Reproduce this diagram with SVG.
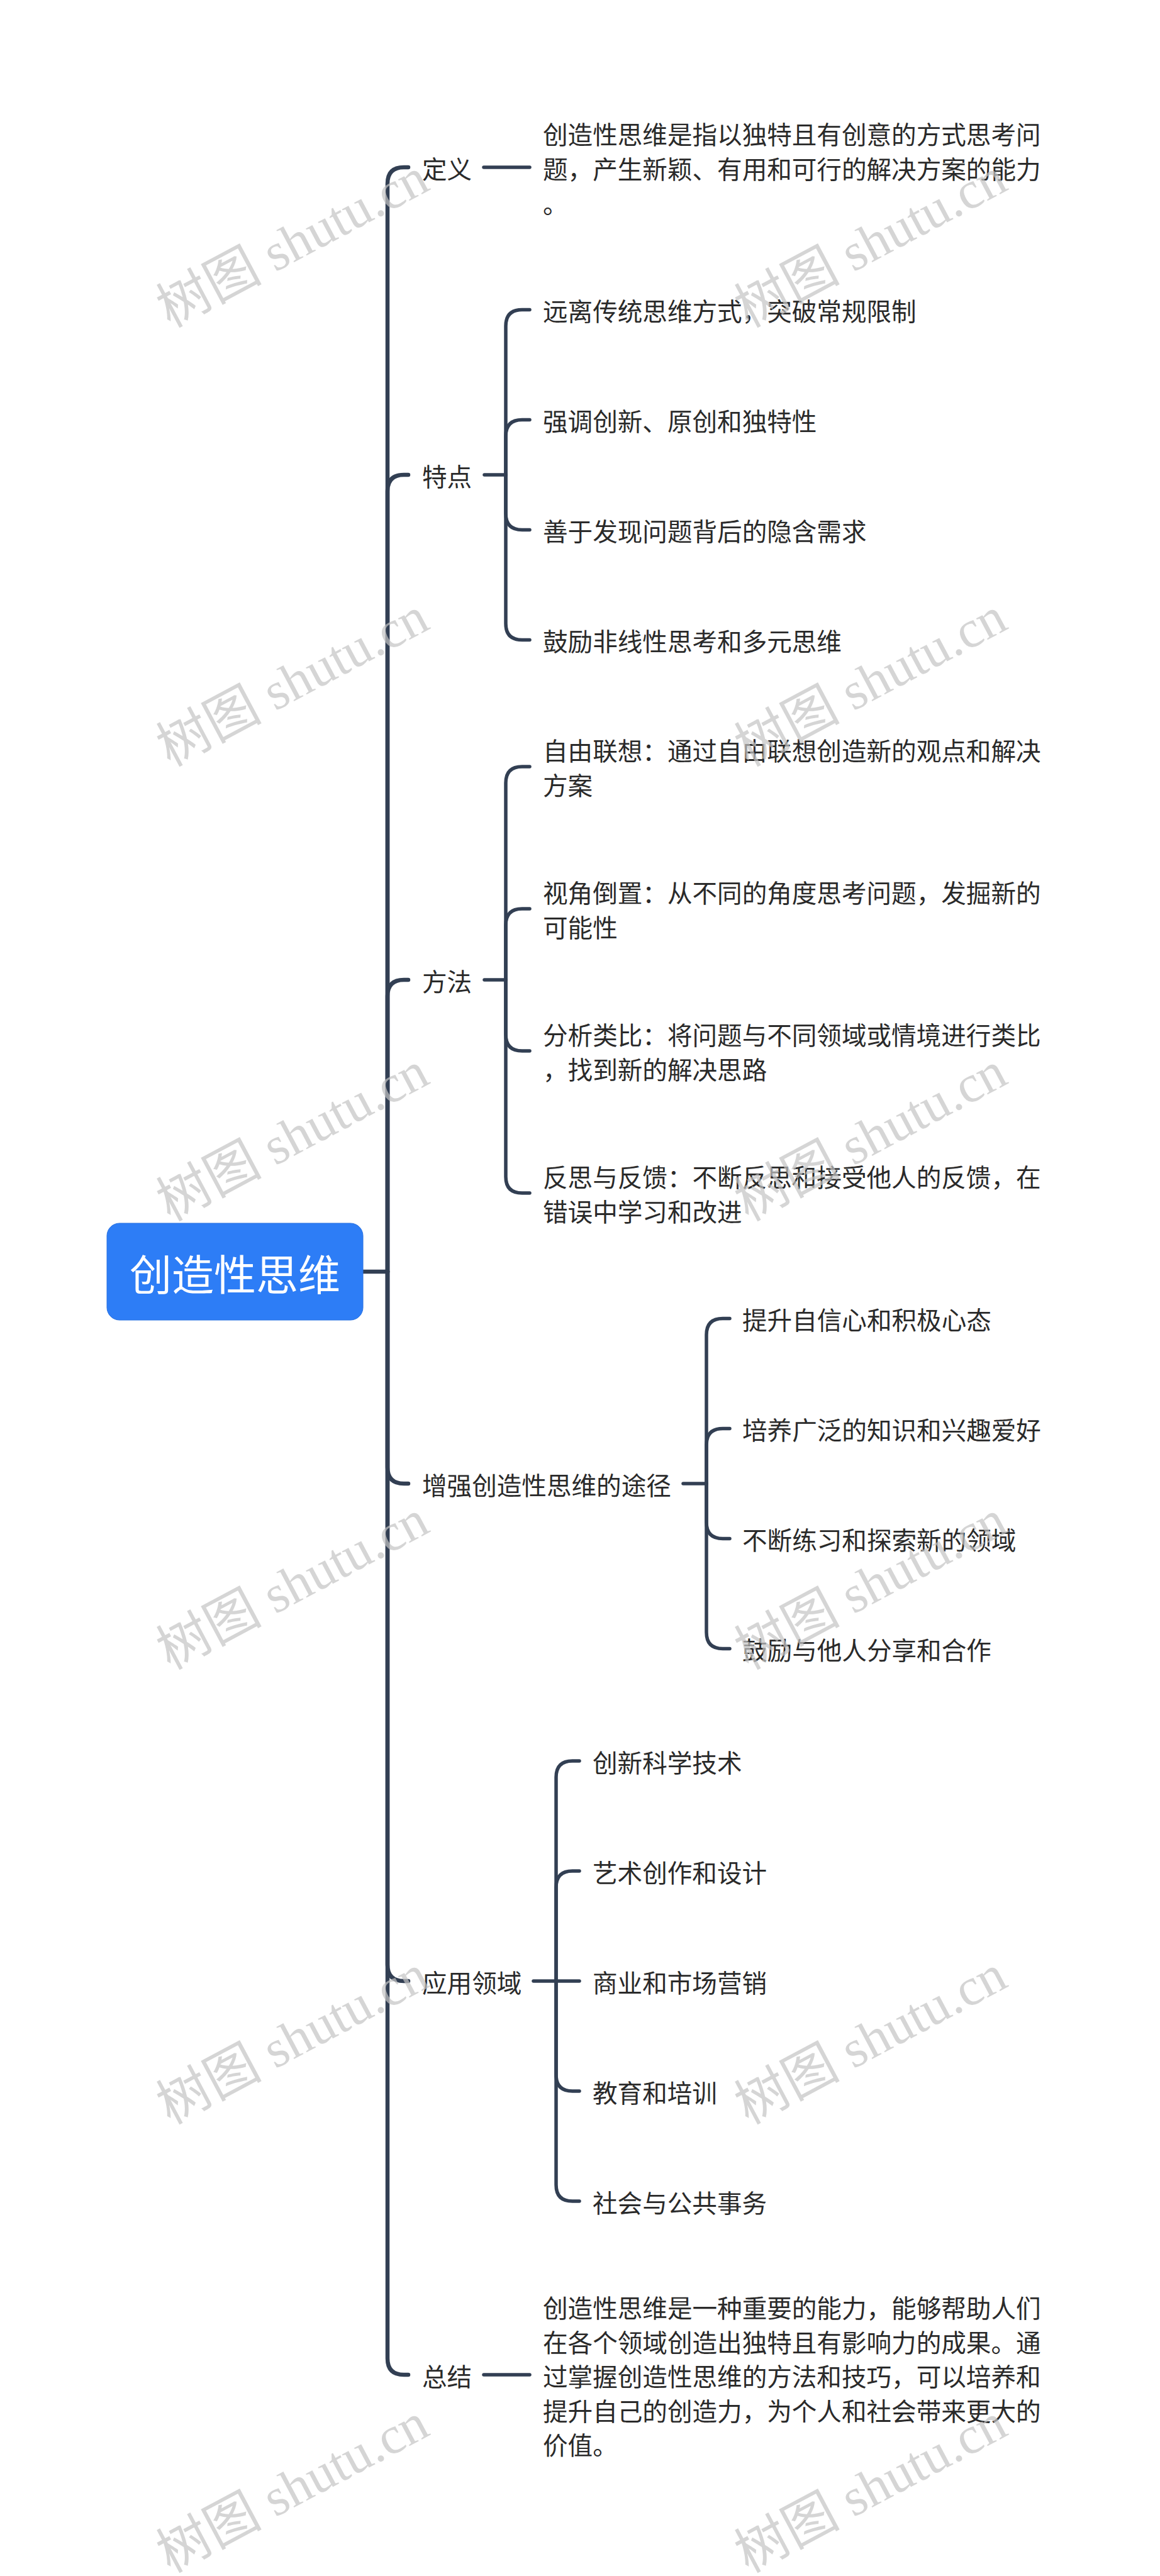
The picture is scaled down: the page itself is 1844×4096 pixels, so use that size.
<svg xmlns="http://www.w3.org/2000/svg" width="1844" height="4096" viewBox="0 0 1844 4096">
<style>
.t{font-family:"Noto Sans CJK SC","Microsoft YaHei","Noto Sans",sans-serif;font-size:39.6px;fill:#2a2a2a;dominant-baseline:central}
.root{font-family:"Noto Sans CJK SC","Microsoft YaHei","Noto Sans",sans-serif;font-size:67px;fill:#ffffff;dominant-baseline:central;text-anchor:middle}
.main{fill:none;stroke:#323f53;stroke-width:6.5;stroke-linecap:round;stroke-linejoin:round}
.sub{fill:none;stroke:#323f53;stroke-width:5.5;stroke-linecap:round;stroke-linejoin:round}
.wm{font-family:"Liberation Serif","Noto Sans CJK SC",serif;font-size:84px;fill:#c4c4c4;opacity:0.7;text-anchor:middle;dominant-baseline:central}
</style>
<rect width="1844" height="4096" fill="#ffffff"/>
<g id="connectors">
<path class="main" d="M577,2022 H616"/>
<path class="main" d="M616,2022 V292 Q616,266 642,266 H649"/>
<path class="main" d="M616,2022 V781 Q616,755 642,755 H649"/>
<path class="main" d="M616,2022 V1584 Q616,1558 642,1558 H649"/>
<path class="main" d="M616,2022 V2333 Q616,2359 642,2359 H649"/>
<path class="main" d="M616,2022 V3124 Q616,3150 642,3150 H649"/>
<path class="main" d="M616,2022 V3750 Q616,3776 642,3776 H649"/>
<path class="sub" d="M769,266 H842"/>
<path class="sub" d="M770,755 H804"/>
<path class="sub" d="M804,755 V518.5 Q804,492.5 830,492.5 H842"/>
<path class="sub" d="M804,755 V693.5 Q804,667.5 830,667.5 H842"/>
<path class="sub" d="M804,755 V816.5 Q804,842.5 830,842.5 H842"/>
<path class="sub" d="M804,755 V991.5 Q804,1017.5 830,1017.5 H842"/>
<path class="sub" d="M770,1558 H804"/>
<path class="sub" d="M804,1558 V1245 Q804,1219 830,1219 H842"/>
<path class="sub" d="M804,1558 V1471 Q804,1445 830,1445 H842"/>
<path class="sub" d="M804,1558 V1645 Q804,1671 830,1671 H842"/>
<path class="sub" d="M804,1558 V1871 Q804,1897 830,1897 H842"/>
<path class="sub" d="M1086,2359 H1123"/>
<path class="sub" d="M1123,2359 V2122.5 Q1123,2096.5 1149,2096.5 H1160"/>
<path class="sub" d="M1123,2359 V2297.5 Q1123,2271.5 1149,2271.5 H1160"/>
<path class="sub" d="M1123,2359 V2420.5 Q1123,2446.5 1149,2446.5 H1160"/>
<path class="sub" d="M1123,2359 V2595.5 Q1123,2621.5 1149,2621.5 H1160"/>
<path class="sub" d="M848,3150 H921"/>
<path class="sub" d="M884,3150 V2826 Q884,2800 910,2800 H921"/>
<path class="sub" d="M884,3150 V3001 Q884,2975 910,2975 H921"/>
<path class="sub" d="M884,3150 V3299 Q884,3325 910,3325 H921"/>
<path class="sub" d="M884,3150 V3474 Q884,3500 910,3500 H921"/>
<path class="sub" d="M769,3776 H842"/>
</g>
<g id="root">
<rect x="170" y="1945" width="407" height="154" rx="20" fill="#2d7df6" stroke="#2a72e0" stroke-width="1"/>
<text class="root" x="373.5" y="2022">创造性思维</text>
</g>
<g id="n-dingyi"><text class="t" x="671" y="266">定义</text></g>
<g id="n-dingyi-1"><text class="t" x="863" y="211.5">创造性思维是指以独特且有创意的方式思考问<tspan x="863" y="266">题，产生新颖、有用和可行的解决方案的能力</tspan><tspan x="863" y="320.5">。</tspan></text></g>
<g id="n-tedian"><text class="t" x="671" y="755">特点</text></g>
<g id="n-tedian-1"><text class="t" x="863" y="492.5">远离传统思维方式，突破常规限制</text></g>
<g id="n-tedian-2"><text class="t" x="863" y="667.5">强调创新、原创和独特性</text></g>
<g id="n-tedian-3"><text class="t" x="863" y="842.5">善于发现问题背后的隐含需求</text></g>
<g id="n-tedian-4"><text class="t" x="863" y="1017.5">鼓励非线性思考和多元思维</text></g>
<g id="n-fangfa"><text class="t" x="671" y="1558">方法</text></g>
<g id="n-fangfa-1"><text class="t" x="863" y="1191.75">自由联想：通过自由联想创造新的观点和解决<tspan x="863" y="1246.25">方案</tspan></text></g>
<g id="n-fangfa-2"><text class="t" x="863" y="1417.75">视角倒置：从不同的角度思考问题，发掘新的<tspan x="863" y="1472.25">可能性</tspan></text></g>
<g id="n-fangfa-3"><text class="t" x="863" y="1643.75">分析类比：将问题与不同领域或情境进行类比<tspan x="863" y="1698.25">，找到新的解决思路</tspan></text></g>
<g id="n-fangfa-4"><text class="t" x="863" y="1869.75">反思与反馈：不断反思和接受他人的反馈，在<tspan x="863" y="1924.25">错误中学习和改进</tspan></text></g>
<g id="n-zengqiang"><text class="t" x="671" y="2359">增强创造性思维的途径</text></g>
<g id="n-zengqiang-1"><text class="t" x="1180" y="2096.5">提升自信心和积极心态</text></g>
<g id="n-zengqiang-2"><text class="t" x="1180" y="2271.5">培养广泛的知识和兴趣爱好</text></g>
<g id="n-zengqiang-3"><text class="t" x="1180" y="2446.5">不断练习和探索新的领域</text></g>
<g id="n-zengqiang-4"><text class="t" x="1180" y="2621.5">鼓励与他人分享和合作</text></g>
<g id="n-yingyong"><text class="t" x="671" y="3150">应用领域</text></g>
<g id="n-yingyong-1"><text class="t" x="942" y="2800">创新科学技术</text></g>
<g id="n-yingyong-2"><text class="t" x="942" y="2975">艺术创作和设计</text></g>
<g id="n-yingyong-3"><text class="t" x="942" y="3150">商业和市场营销</text></g>
<g id="n-yingyong-4"><text class="t" x="942" y="3325">教育和培训</text></g>
<g id="n-yingyong-5"><text class="t" x="942" y="3500">社会与公共事务</text></g>
<g id="n-zongjie"><text class="t" x="671" y="3776">总结</text></g>
<g id="n-zongjie-1"><text class="t" x="863" y="3667">创造性思维是一种重要的能力，能够帮助人们<tspan x="863" y="3721.5">在各个领域创造出独特且有影响力的成果。通</tspan><tspan x="863" y="3776">过掌握创造性思维的方法和技巧，可以培养和</tspan><tspan x="863" y="3830.5">提升自己的创造力，为个人和社会带来更大的</tspan><tspan x="863" y="3885">价值。</tspan></text></g>
<g id="watermarks">
<text class="wm" x="465" y="386" transform="rotate(-28 465 386)">树图 shutu.cn</text>
<text class="wm" x="1384" y="386" transform="rotate(-28 1384 386)">树图 shutu.cn</text>
<text class="wm" x="465" y="1084" transform="rotate(-28 465 1084)">树图 shutu.cn</text>
<text class="wm" x="1384" y="1084" transform="rotate(-28 1384 1084)">树图 shutu.cn</text>
<text class="wm" x="465" y="1807" transform="rotate(-28 465 1807)">树图 shutu.cn</text>
<text class="wm" x="1384" y="1807" transform="rotate(-28 1384 1807)">树图 shutu.cn</text>
<text class="wm" x="465" y="2520" transform="rotate(-28 465 2520)">树图 shutu.cn</text>
<text class="wm" x="1384" y="2520" transform="rotate(-28 1384 2520)">树图 shutu.cn</text>
<text class="wm" x="465" y="3243" transform="rotate(-28 465 3243)">树图 shutu.cn</text>
<text class="wm" x="1384" y="3243" transform="rotate(-28 1384 3243)">树图 shutu.cn</text>
<text class="wm" x="465" y="3956" transform="rotate(-28 465 3956)">树图 shutu.cn</text>
<text class="wm" x="1384" y="3956" transform="rotate(-28 1384 3956)">树图 shutu.cn</text>
</g>
</svg>
